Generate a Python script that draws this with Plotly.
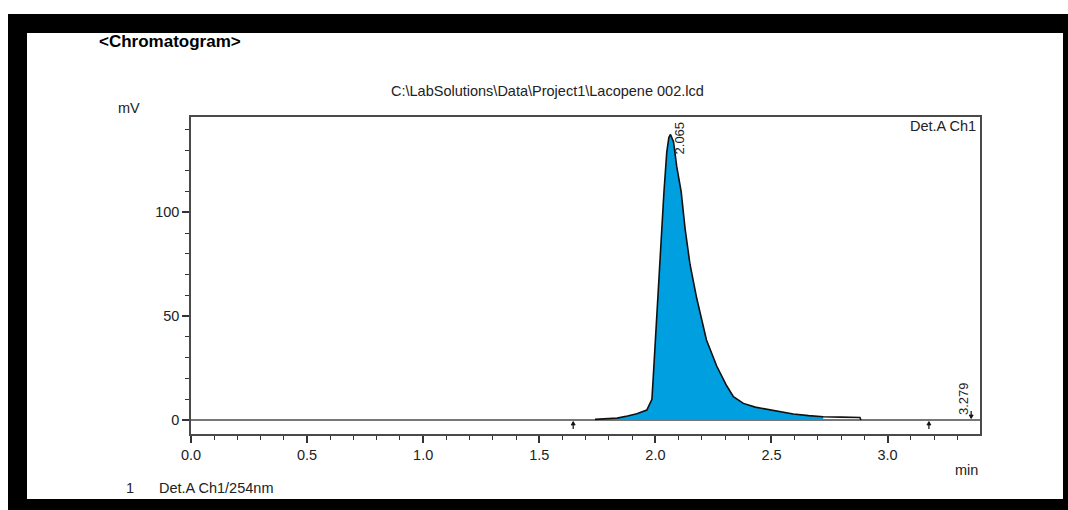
import plotly.graph_objects as go

# ---------------- data ----------------
peak_time = [1.74, 1.80, 1.835, 1.88, 1.92, 1.963, 1.977, 1.985, 1.991, 2.003, 2.013,
             2.027, 2.037, 2.049, 2.058, 2.065, 2.078, 2.092, 2.111, 2.128, 2.149,
             2.178, 2.192, 2.220, 2.264, 2.307, 2.336, 2.379, 2.43, 2.48, 2.54,
             2.594, 2.66, 2.723, 2.80, 2.881, 2.885]
peak_signal = [0.3, 0.5, 0.9, 1.9, 3.0, 4.8, 8.0, 10.0, 21.0, 45.0, 65.0,
               91.0, 110.0, 129.0, 136.0, 137.5, 134.0, 122.0, 110.0, 92.0, 75.0,
               58.6, 52.0, 38.5, 26.0, 16.5, 11.2, 8.0, 6.2, 5.1, 3.9,
               2.9, 2.1, 1.6, 1.4, 1.2, 0.0]
baseline_time = [0.0, 3.4]
baseline_signal = [0.0, 0.0]
integration_start = 1.835
integration_end = 2.723

peak_labels = ["2.065", "3.279"]
peak_label_time = [2.108, 3.329]
peak_label_signal = [135.8, 10.6]

start_marks = [1.646, 3.178]   # up arrows below the baseline
end_marks = [3.36]             # down arrow above the baseline

x_range = [0.0, 3.398]
y_range = [-6.74, 145.9]
x_tickvals = [0.0, 0.5, 1.0, 1.5, 2.0, 2.5, 3.0]
y_tickvals = [0, 50, 100]

# ---------------- geometry helpers (pixel -> paper) ----------------
W, H = 1068, 510
L, R, T, B = 191, 980, 117, 434
def px(x):
    return (x - L) / (R - L)
def py(y):
    return (B - y) / (B - T)

FONT = "Liberation Sans, Arial, sans-serif"
TXT = "#222222"
BLUE = "#009FE0"

fig = go.Figure()

fill_t = [t for t in peak_time if integration_start <= t <= integration_end]
fill_s = [s for t, s in zip(peak_time, peak_signal) if integration_start <= t <= integration_end]

fig.add_trace(go.Scatter(x=baseline_time, y=baseline_signal, mode="lines",
                         line=dict(color="#4a4a4a", width=1.5), hoverinfo="skip"))
fig.add_trace(go.Scatter(x=fill_t, y=fill_s, mode="lines", fill="tozeroy",
                         fillcolor=BLUE, line=dict(width=0, color=BLUE), hoverinfo="skip"))
fig.add_trace(go.Scatter(x=peak_time, y=peak_signal, mode="lines",
                         line=dict(color="#111111", width=1.6), hoverinfo="skip"))

annotations = []
for lab, xt, ys in zip(peak_labels, peak_label_time, peak_label_signal):
    annotations.append(dict(x=xt, y=ys, xref="x", yref="y", text=lab, textangle=-90,
                            showarrow=False, xanchor="center", yanchor="middle",
                            font=dict(family=FONT, size=13, color=TXT)))

shapes = []
# small integration-mark arrows, sized in pixels, anchored on the data baseline
for t in start_marks:
    shapes.append(dict(type="path", xref="x", yref="y", xsizemode="pixel", ysizemode="pixel",
                       xanchor=t, yanchor=0, path="M0,-2 L0,-9",
                       line=dict(color="#111111", width=1.2)))
    shapes.append(dict(type="path", xref="x", yref="y", xsizemode="pixel", ysizemode="pixel",
                       xanchor=t, yanchor=0, path="M-2,-5 L0,-1.5 L2,-5 Z",
                       fillcolor="#111111", line=dict(color="#111111", width=0.8)))
for t in end_marks:
    shapes.append(dict(type="path", xref="x", yref="y", xsizemode="pixel", ysizemode="pixel",
                       xanchor=t, yanchor=0, path="M0,2 L0,9",
                       line=dict(color="#111111", width=1.2)))
    shapes.append(dict(type="path", xref="x", yref="y", xsizemode="pixel", ysizemode="pixel",
                       xanchor=t, yanchor=0, path="M-2,5 L0,1.5 L2,5 Z",
                       fillcolor="#111111", line=dict(color="#111111", width=0.8)))

def ptext(text, x, y, xanchor="left", size=14.5, bold=False):
    annotations.append(dict(x=px(x), y=py(y), xref="paper", yref="paper",
                            text=f"<b>{text}</b>" if bold else text, showarrow=False,
                            xanchor=xanchor, yanchor="middle",
                            font=dict(family=FONT, size=size, color="#000000" if bold else TXT)))

ptext("&lt;Chromatogram&gt;", 97, 42, size=17, bold=True)
ptext("C:\\LabSolutions\\Data\\Project1\\Lacopene 002.lcd", 547.5, 90.5, xanchor="center", size=14.5)
ptext("mV", 129, 108, xanchor="center")
ptext("Det.A Ch1", 978, 126, xanchor="right")
ptext("min", 966, 470, xanchor="center")
ptext("1", 130, 488, xanchor="center")
ptext("Det.A Ch1/254nm", 157, 488, xanchor="left")

# black photo frame
def band(x0, y0, x1, y1):
    shapes.append(dict(type="rect", xref="paper", yref="paper",
                       x0=px(x0), x1=px(x1), y0=py(y0), y1=py(y1),
                       fillcolor="black", line=dict(width=0), layer="above"))
band(8, 14, 1068, 33)
band(8, 14, 27, 510)
band(8, 499, 1068, 510)
band(1063, 14, 1068, 510)

axis_common = dict(showline=True, mirror=True, linecolor="#4a4a4a", linewidth=1.5,
                   showgrid=False, zeroline=False, ticks="outside", tickcolor="#333333",
                   tickwidth=1.5, ticklen=7,
                   tickfont=dict(family=FONT, size=14.5, color=TXT))

fig.update_layout(
    width=W, height=H,
    margin=dict(l=L, r=W - R, t=T, b=H - B, autoexpand=False),
    paper_bgcolor="white", plot_bgcolor="white",
    showlegend=False,
    xaxis=dict(range=x_range, tickvals=x_tickvals, tickformat=".1f",
               minor=dict(dtick=0.1, tick0=0, ticks="outside", ticklen=4,
                          tickcolor="#333333", tickwidth=1.3),
               **axis_common),
    yaxis=dict(range=y_range, tickvals=y_tickvals,
               minor=dict(dtick=10, tick0=0, ticks="outside", ticklen=4,
                          tickcolor="#333333", tickwidth=1.3),
               **axis_common),
    annotations=annotations,
    shapes=shapes,
)

fig.write_html("out.html", config={"displayModeBar": False},
               post_script="document.body.style.margin='0';document.body.style.overflow='hidden';")
